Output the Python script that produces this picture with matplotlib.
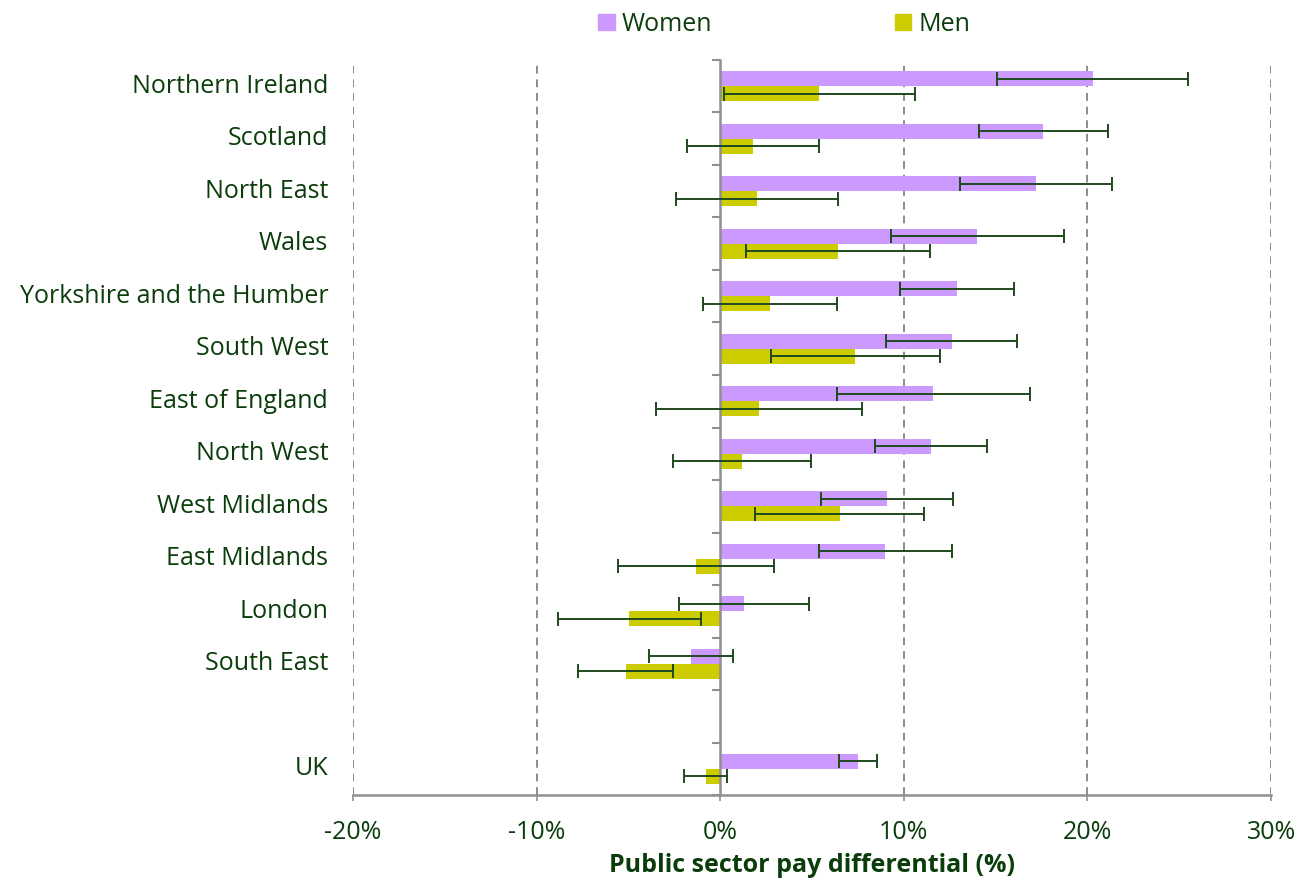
import matplotlib.pyplot as plt
from matplotlib.transforms import blended_transform_factory

plt.rcParams['font.family'] = ['Open Sans', 'DejaVu Sans']

regions = ["Northern Ireland", "Scotland", "North East", "Wales",
           "Yorkshire and the Humber", "South West", "East of England",
           "North West", "West Midlands", "East Midlands", "London",
           "South East", "", "UK"]
women = [20.3, 17.6, 17.2, 14.0, 12.9, 12.6, 11.6, 11.5, 9.1, 9.0, 1.3, -1.6, None, 7.5]
women_err = [5.2, 3.5, 4.15, 4.7, 3.1, 3.55, 5.25, 3.05, 3.6, 3.6, 3.55, 2.3, None, 1.05]
men = [5.4, 1.8, 2.0, 6.4, 2.7, 7.35, 2.1, 1.2, 6.5, -1.3, -4.95, -5.15, None, -0.8]
men_err = [5.2, 3.6, 4.4, 5.0, 3.65, 4.6, 5.6, 3.75, 4.6, 4.25, 3.9, 2.6, None, 1.15]

text_col = '#0b3d0b'
women_col = '#cc99ff'
men_col = '#cccc00'
err_col = '#1f4a1f'
fs = 18

fig = plt.figure(figsize=(13.01, 8.82), dpi=100)
ax = fig.add_axes([0.2713, 0.0986, 0.7057, 0.8334])

n = len(regions)
ys = [n - 1 - i for i in range(n)]
h = 0.29
for y, w, we, m, me in zip(ys, women, women_err, men, men_err):
    if w is None:
        continue
    ax.barh(y + h / 2, w, height=h, color=women_col, edgecolor='none', zorder=2)
    ax.barh(y - h / 2, m, height=h, color=men_col, edgecolor='none', zorder=2)
    ax.errorbar(w, y + h / 2, xerr=we, fmt='none', ecolor=err_col,
                elinewidth=1.4, capsize=5, capthick=1.4, zorder=3)
    ax.errorbar(m, y - h / 2, xerr=me, fmt='none', ecolor=err_col,
                elinewidth=1.4, capsize=5, capthick=1.4, zorder=3)

ax.set_xlim(-20, 30)
ax.set_ylim(-0.5, n - 0.5)

# category labels sit left of the plot area, the axis line sits at 0
trans = blended_transform_factory(ax.transAxes, ax.transData)
for y, name in zip(ys, regions):
    if name:
        ax.text(-0.027, y, name, transform=trans, ha='right', va='center',
                fontsize=fs, color=text_col)

ax.set_yticks([k - 0.5 for k in range(n + 1)])
ax.set_yticklabels([])
ax.tick_params(axis='y', length=6, width=1.5, color='#909090', direction='out')

xt = [-20, -10, 0, 10, 20, 30]
ax.set_xticks(xt)
ax.set_xticklabels([f"{v}%" for v in xt], fontsize=fs, color=text_col)
ax.tick_params(axis='x', length=4, width=1.2, color='#909090', pad=14)
for v in [-20, -10, 10, 20, 30]:
    ax.axvline(v, color='#8c8c8c', lw=1.4, ls=(0, (4, 3)), zorder=1)

ax.spines['left'].set_position(('data', 0))
ax.spines['left'].set_color('#909090')
ax.spines['left'].set_linewidth(1.8)
ax.spines['bottom'].set_color('#909090')
ax.spines['bottom'].set_linewidth(1.8)
ax.spines['top'].set_visible(False)
ax.spines['right'].set_visible(False)

ax.set_xlabel("Public sector pay differential (%)", fontsize=fs,
              fontweight='bold', color=text_col, labelpad=6)

handles = [plt.Rectangle((0, 0), 1, 1, color=women_col),
           plt.Rectangle((0, 0), 1, 1, color=men_col)]
leg = fig.legend(handles, ["Women", "Men"], loc='upper center',
                 bbox_to_anchor=(0.603, 1.012), ncol=2, frameon=False,
                 fontsize=fs, handlelength=0.65, handleheight=0.65,
                 handletextpad=0.3, columnspacing=7.3)
for t in leg.get_texts():
    t.set_color(text_col)

fig.savefig("out.png", dpi=100)
